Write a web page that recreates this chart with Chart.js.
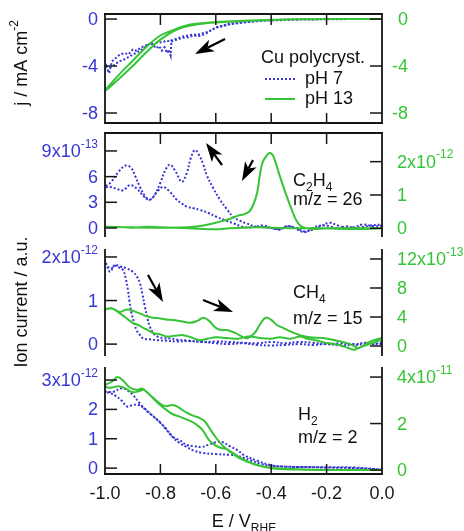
<!DOCTYPE html>
<html>
<head>
<meta charset="utf-8">
<script src="https://cdn.jsdelivr.net/npm/chart.js@4.4.0/dist/chart.umd.min.js"></script>
<style>
  body { margin: 0; background: #fff; }
  #wrap { position: relative; width: 464px; height: 531px; }
  canvas { position: absolute; left: 0; top: 0; }
</style>
</head>
<body>
<div id="wrap">
  <canvas id="p1" width="464" height="531"></canvas>
  <canvas id="p2" width="464" height="531"></canvas>
  <canvas id="p3" width="464" height="531"></canvas>
  <canvas id="p4" width="464" height="531"></canvas>
</div>
<script>
// DATA  (pairs are [E / V_RHE, value]; each curve is a full sweep 0 -> -1 -> 0)

const xTicks = [-1.0, -0.8, -0.6, -0.4, -0.2, 0.0];

// panel 1: current density, mA cm^-2
const p1Blue = [[0,0],[-0.1,0],[-0.2,-0.02],[-0.3,-0.05],[-0.4,-0.12],[-0.45,-0.18],[-0.5,-0.3],[-0.55,-0.45],
  [-0.6,-0.75],[-0.63,-1.1],[-0.66,-1.3],[-0.69,-1.35],[-0.72,-1.5],[-0.745,-1.7],[-0.76,-1.8],[-0.763,-3.1],
  [-0.77,-2.6],[-0.776,-2.9],[-0.785,-2.4],[-0.795,-2.7],[-0.805,-2.3],[-0.815,-2.5],[-0.83,-2.1],[-0.845,-2.2],
  [-0.86,-2.5],[-0.875,-2.7],[-0.89,-2.9],[-0.905,-3.1],[-0.92,-3.3],[-0.935,-3.5],[-0.95,-3.6],[-0.965,-3.9],
  [-0.98,-4.1],[-0.99,-4.4],[-1.0,-4.3],[-0.995,-4.0],[-0.985,-4.6],[-0.975,-3.6],[-0.96,-3.3],[-0.945,-3.0],
  [-0.93,-2.9],[-0.915,-3.0],[-0.9,-2.6],[-0.885,-2.7],[-0.87,-2.4],[-0.855,-2.3],[-0.84,-2.1],[-0.825,-2.2],
  [-0.81,-1.95],[-0.795,-2.0],[-0.78,-1.85],[-0.76,-1.9],[-0.74,-1.75],[-0.72,-1.6],[-0.7,-1.55],[-0.68,-1.4],
  [-0.66,-1.45],[-0.64,-1.3],[-0.62,-1.0],[-0.6,-0.7],[-0.55,-0.4],[-0.5,-0.25],[-0.45,-0.15],[-0.4,-0.08],
  [-0.3,-0.02],[-0.2,0],[0,0]];
const p1Green = [[0,0],[-0.1,0],[-0.2,0],[-0.3,-0.02],[-0.4,-0.07],[-0.5,-0.15],[-0.6,-0.25],[-0.65,-0.35],
  [-0.7,-0.5],[-0.75,-0.9],[-0.8,-1.4],[-0.85,-2.35],[-0.9,-3.55],[-0.95,-4.75],[-1.0,-6.1],[-0.95,-5.1],
  [-0.9,-4.0],[-0.85,-2.8],[-0.8,-1.75],[-0.75,-1.0],[-0.7,-0.6],[-0.65,-0.4],[-0.6,-0.3],[-0.5,-0.17],
  [-0.4,-0.08],[-0.3,-0.02],[-0.2,0],[-0.1,0],[0,0]];
const p1LeftTicks = [-8, -4, 0];
const p1LeftLabels = ['-8', '-4', '0'];
const p1RightTicks = [-8, -4, 0];
const p1RightLabels = ['-8', '-4', '0'];

// panel 2: C2H4, m/z = 26 (blue x1e-13, green x1e-12)
const p2Blue = [[0,0.3],[-0.03,0.2],[-0.07,0.4],[-0.1,0.1],[-0.13,0.0],[-0.16,0.3],[-0.19,0.6],[-0.22,0.2],
  [-0.25,-0.2],[-0.28,-0.4],[-0.31,0.0],[-0.34,0.2],[-0.37,-0.1],[-0.4,0.0],[-0.43,0.3],[-0.46,0.1],[-0.49,0.05],
  [-0.51,0.2],[-0.537,0.55],[-0.567,0.9],[-0.597,1.3],[-0.627,1.75],[-0.657,2.1],[-0.68,2.3],[-0.705,2.5],
  [-0.725,2.9],[-0.741,3.3],[-0.765,4.2],[-0.79,4.8],[-0.81,4.3],[-0.838,3.3],[-0.86,3.7],[-0.885,4.6],
  [-0.91,5.0],[-0.935,4.4],[-0.96,4.6],[-0.98,4.8],[-1.0,4.8],
  [-0.98,5.3],[-0.95,6.6],[-0.925,7.3],[-0.905,7.0],[-0.89,6.0],[-0.874,4.8],[-0.855,3.7],[-0.838,3.3],
  [-0.82,3.9],[-0.8,5.3],[-0.78,6.9],[-0.765,7.4],[-0.745,6.6],[-0.723,5.4],[-0.705,6.4],[-0.69,8.2],
  [-0.675,9.1],[-0.66,8.5],[-0.645,7.4],[-0.633,6.2],[-0.61,4.7],[-0.585,3.3],[-0.56,2.2],[-0.537,1.3],
  [-0.51,0.8],[-0.49,0.55],[-0.46,0.2],[-0.43,0.1],[-0.4,0.0],[-0.37,-0.2],[-0.34,0.2],[-0.31,-0.1],
  [-0.28,-0.5],[-0.25,0.0],[-0.22,0.3],[-0.19,0.2],[-0.16,-0.1],[-0.13,0.2],[-0.1,0.0],[-0.07,0.1],
  [-0.04,0.3],[0,0.4]];
const p2Green = [[0,0],[-0.1,0],[-0.2,0],[-0.25,-0.02],[-0.29,0.05],[-0.31,0.25],[-0.33,0.65],[-0.35,1.1],
  [-0.37,1.6],[-0.385,2.0],[-0.395,2.2],[-0.405,2.26],[-0.415,2.2],[-0.43,2.0],[-0.44,1.65],[-0.45,1.1],
  [-0.465,0.7],[-0.48,0.5],[-0.5,0.42],[-0.52,0.38],[-0.55,0.28],[-0.6,0.17],[-0.65,0.08],[-0.7,0.03],
  [-0.8,0.02],[-0.9,0.03],[-1.0,0.05],[-0.95,0.04],[-0.9,0.02],[-0.85,0.05],[-0.8,0.03],[-0.7,0.0],
  [-0.6,-0.03],[-0.55,0.0],[-0.5,0.02],[-0.45,0.03],[-0.4,0.02],[-0.3,0.0],[-0.2,0.0],[-0.1,-0.02],[0,0]];
const p2LeftTicks = [0, 3, 6, 9];
const p2LeftLabels = ['0', '3', '6', '9x10^{-13}'];
const p2RightTicks = [0, 1, 2];
const p2RightLabels = ['0', '1', '2x10^{-12}'];

// panel 3: CH4, m/z = 15 (blue x1e-12, green x1e-13)
const p3Blue = [[0,0.05],[-0.03,0.0],[-0.06,0.03],[-0.1,0.0],[-0.15,0.02],[-0.2,0.0],[-0.25,0.03],[-0.3,0.05],
  [-0.35,0.02],[-0.4,0.05],[-0.45,0.02],[-0.5,0.03],[-0.55,0.05],[-0.6,0.06],[-0.65,0.05],[-0.7,0.07],
  [-0.74,0.06],[-0.78,0.08],[-0.81,0.09],[-0.84,0.11],[-0.862,0.13],[-0.875,0.22],[-0.886,0.32],[-0.895,0.5],
  [-0.904,0.7],[-0.912,1.0],[-0.917,1.24],[-0.925,1.5],[-0.935,1.7],[-0.95,1.76],[-0.964,1.8],[-0.975,1.75],
  [-0.99,1.78],[-1.0,1.93],
  [-0.99,1.75],[-0.982,1.66],[-0.972,1.75],[-0.964,1.82],[-0.945,1.78],[-0.922,1.74],[-0.9,1.66],[-0.885,1.55],
  [-0.874,1.4],[-0.865,1.15],[-0.856,0.86],[-0.847,0.6],[-0.838,0.4],[-0.825,0.25],[-0.81,0.17],[-0.79,0.14],
  [-0.765,0.13],[-0.74,0.1],[-0.7,0.08],[-0.65,0.05],[-0.6,0.02],[-0.55,0.0],[-0.5,0.02],[-0.45,-0.02],
  [-0.4,-0.03],[-0.35,-0.02],[-0.3,0.0],[-0.25,-0.02],[-0.2,0.0],[-0.15,-0.03],[-0.1,-0.02],[-0.05,0.0],[0,0.0]];
const p3Green = [[0,1.0],[-0.02,0.6],[-0.05,0.2],[-0.08,-0.2],[-0.1,-0.5],[-0.12,-0.3],[-0.15,0.1],[-0.18,0.3],
  [-0.21,0.5],[-0.24,0.8],[-0.27,1.0],[-0.296,1.3],[-0.33,1.0],[-0.37,1.2],[-0.4,1.0],[-0.44,1.1],[-0.48,1.3],
  [-0.52,1.0],[-0.56,1.1],[-0.6,1.2],[-0.63,1.0],[-0.657,0.8],[-0.69,1.2],[-0.718,1.5],[-0.75,1.4],[-0.777,1.3],
  [-0.8,1.6],[-0.826,1.8],[-0.845,2.2],[-0.862,2.5],[-0.88,2.9],[-0.9,3.2],[-0.925,3.9],[-0.946,4.5],
  [-0.965,5.0],[-0.98,5.2],[-1.0,5.0],
  [-0.976,5.2],[-0.96,4.9],[-0.946,4.7],[-0.925,5.0],[-0.91,5.0],[-0.89,4.7],[-0.874,4.5],[-0.85,4.1],
  [-0.826,3.9],[-0.8,3.8],[-0.78,3.65],[-0.755,3.6],[-0.725,3.4],[-0.693,3.2],[-0.665,3.5],[-0.645,3.9],
  [-0.625,3.5],[-0.6,2.5],[-0.58,2.2],[-0.56,2.2],[-0.53,1.8],[-0.5,1.2],[-0.485,1.1],[-0.46,1.8],[-0.44,3.0],
  [-0.42,3.9],[-0.4,3.6],[-0.38,2.9],[-0.357,2.5],[-0.33,2.0],[-0.296,1.5],[-0.26,1.2],[-0.213,1.1],[-0.17,0.8],
  [-0.126,0.4],[-0.1,0.0],[-0.087,-0.3],[-0.065,0.1],[-0.043,0.6],[-0.02,0.9],[0,1.1]];
const p3LeftTicks = [0, 1, 2];
const p3LeftLabels = ['0', '1', '2x10^{-12}'];
const p3RightTicks = [0, 4, 8, 12];
const p3RightLabels = ['0', '4', '8', '12x10^{-13}'];

// panel 4: H2, m/z = 2 (blue x1e-12, green x1e-11)
const p4Blue = [[0,-0.05],[-0.1,0.0],[-0.2,0.02],[-0.3,0.04],[-0.35,0.05],[-0.4,0.1],[-0.45,0.25],[-0.5,0.45],
  [-0.52,0.6],[-0.55,0.75],[-0.58,0.9],[-0.6,0.88],[-0.625,0.8],[-0.65,0.72],[-0.68,0.75],[-0.705,0.79],
  [-0.73,0.95],[-0.755,1.07],[-0.78,1.35],[-0.8,1.54],[-0.83,1.8],[-0.86,2.05],[-0.88,2.15],[-0.9,2.15],
  [-0.92,2.1],[-0.94,2.3],[-0.96,2.45],[-0.98,2.55],[-1.0,2.6],
  [-0.97,2.6],[-0.94,2.72],[-0.92,2.65],[-0.9,2.5],[-0.874,2.2],[-0.85,1.95],[-0.83,1.8],[-0.8,1.55],
  [-0.78,1.32],[-0.755,1.05],[-0.73,0.85],[-0.705,0.72],[-0.68,0.6],[-0.65,0.52],[-0.6,0.48],[-0.55,0.45],
  [-0.525,0.43],[-0.5,0.35],[-0.47,0.25],[-0.44,0.15],[-0.4,0.08],[-0.35,0.05],[-0.3,0.04],[-0.2,0.03],
  [-0.1,0.02],[0,-0.05]];
const p4Green = [[0,0.0],[-0.2,0.0],[-0.3,0.02],[-0.4,0.08],[-0.45,0.2],[-0.49,0.38],[-0.52,0.55],[-0.55,0.8],
  [-0.575,1.05],[-0.6,1.4],[-0.62,1.75],[-0.64,2.1],[-0.66,2.25],[-0.685,2.35],[-0.71,2.5],[-0.735,2.7],
  [-0.755,2.8],[-0.78,2.75],[-0.8,2.85],[-0.82,3.05],[-0.845,3.3],[-0.865,3.5],[-0.885,3.45],[-0.91,3.55],
  [-0.935,3.85],[-0.955,4.0],[-0.975,3.8],[-1.0,3.65],
  [-0.99,3.55],[-0.975,3.55],[-0.95,3.6],[-0.925,3.5],[-0.9,3.35],[-0.875,3.4],[-0.86,3.45],[-0.84,3.25],
  [-0.81,2.9],[-0.78,2.6],[-0.755,2.4],[-0.73,2.3],[-0.7,2.15],[-0.675,2.0],[-0.65,1.75],[-0.625,1.3],
  [-0.6,1.05],[-0.58,0.95],[-0.56,0.9],[-0.54,0.75],[-0.5,0.45],[-0.45,0.22],[-0.4,0.1],[-0.3,0.03],
  [-0.2,0.0],[0,0.0]];
const p4LeftTicks = [0, 1, 2, 3];
const p4LeftLabels = ['0', '1', '2', '3x10^{-12}'];
const p4RightTicks = [0, 2, 4];
const p4RightLabels = ['0', '2', '4x10^{-11}'];

// STYLE

const BLUE = '#3636d2';
const GREEN = '#36c436';
const INK = '#161616';
const FONT = '"Liberation Sans", Arial, sans-serif';
const FS = 18;

// rich text: ^{..} superscript, _{..} subscript

function richParts(str){
  const parts = [];
  const re = /([_^])\{([^}]*)\}/g;
  let last = 0, m;
  while((m = re.exec(str))){
    if(m.index > last) parts.push({t: str.slice(last, m.index), k: ''});
    parts.push({t: m[2], k: m[1]});
    last = re.lastIndex;
  }
  if(last < str.length) parts.push({t: str.slice(last), k: ''});
  return parts;
}

function drawRich(ctx, str, x, y, align, color, size){
  size = size || FS;
  const small = Math.round(size * 0.68);
  const parts = richParts(str);
  let w = 0;
  parts.forEach(p=>{
    ctx.font = (p.k ? small : size) + 'px ' + FONT;
    p.w = ctx.measureText(p.t).width;
    w += p.w;
  });
  let cx = align === 'right' ? x - w : align === 'center' ? x - w / 2 : x;
  ctx.fillStyle = color;
  ctx.textAlign = 'left';
  ctx.textBaseline = 'middle';
  parts.forEach(p=>{
    ctx.font = (p.k ? small : size) + 'px ' + FONT;
    const dy = p.k === '^' ? -size * 0.42 : p.k === '_' ? size * 0.36 : 0;
    ctx.fillText(p.t, cx, y + dy);
    cx += p.w;
  });
}

function drawArrow(ctx, x1, y1, x2, y2){
  const a = Math.atan2(y2 - y1, x2 - x1);
  const hl = 19, hw = 6.5;
  const bx = x2 - hl * Math.cos(a), by = y2 - hl * Math.sin(a);
  ctx.setLineDash([]);
  ctx.strokeStyle = '#000';
  ctx.fillStyle = '#000';
  ctx.lineWidth = 2.2;
  ctx.beginPath();
  ctx.moveTo(x1, y1);
  ctx.lineTo(bx + 5 * Math.cos(a), by + 5 * Math.sin(a));
  ctx.stroke();
  ctx.beginPath();
  ctx.moveTo(x2, y2);
  ctx.lineTo(bx + hw * Math.sin(a), by - hw * Math.cos(a));
  ctx.lineTo(bx + 5 * Math.cos(a), by + 5 * Math.sin(a));
  ctx.lineTo(bx - hw * Math.sin(a), by + hw * Math.cos(a));
  ctx.closePath();
  ctx.fill();
}

// PANEL DECORATION (frames, inward ticks, labels, notes)

const decoPlugin = {
  id: 'deco',
  afterDraw(chart, args, o){
    const ctx = chart.ctx;
    const a = chart.chartArea;
    const x = chart.scales.x, yL = chart.scales.yL, yR = chart.scales.yR;
    ctx.save();
    ctx.setLineDash([]);

    // frame
    ctx.strokeStyle = INK;
    ctx.lineWidth = 1.8;
    ctx.lineCap = 'square';
    const side = (x1, y1, x2, y2)=>{ ctx.beginPath(); ctx.moveTo(x1, y1); ctx.lineTo(x2, y2); ctx.stroke(); };
    if(o.sides.includes('t')) side(a.left, a.top, a.right, a.top);
    if(o.sides.includes('b')) side(a.left, a.bottom, a.right, a.bottom);
    side(a.left, a.top, a.left, a.bottom);
    side(a.right, a.top, a.right, a.bottom);

    // x ticks
    ctx.lineWidth = 1.5;
    ctx.lineCap = 'butt';
    xTicks.slice(1, -1).forEach(v=>{
      const px = x.getPixelForValue(v);
      if(o.sides.includes('t')) side(px, a.top, px, a.top + 11);
      if(o.sides.includes('b')) side(px, a.bottom, px, a.bottom - 10);
    });

    // y ticks and labels
    yL.ticks.forEach((t, i)=>{
      const py = yL.getPixelForValue(t.value);
      side(a.left, py, a.left + 12, py);
      drawRich(ctx, o.leftLabels[i], a.left - 7, py + 1, 'right', BLUE);
    });
    yR.ticks.forEach((t, i)=>{
      const py = yR.getPixelForValue(t.value);
      side(a.right, py, a.right - 12, py);
      if(o.rightAlign === 'right') drawRich(ctx, o.rightLabels[i], a.right + 26, py + 1, 'right', GREEN);
      else drawRich(ctx, o.rightLabels[i], a.right + 15, py + 1, 'left', GREEN);
    });

    (o.notes || []).forEach(n=> drawRich(ctx, n[0], n[1], n[2], n[3] || 'left', n[4] || '#111'));
    (o.arrows || []).forEach(r=> drawArrow(ctx, r[0], r[1], r[2], r[3]));

    if(o.legend){
      ctx.lineWidth = 2;
      ctx.strokeStyle = BLUE;
      ctx.setLineDash([2, 2]);
      side(265, 79, 295, 79);
      ctx.setLineDash([]);
      ctx.strokeStyle = GREEN;
      side(265, 99, 295, 99);
    }

    (o.titles || []).forEach(tt=>{
      ctx.save();
      ctx.translate(tt[1], tt[2]);
      if(tt[3]) ctx.rotate(-Math.PI / 2);
      drawRich(ctx, tt[0], 0, 0, 'center', '#111');
      ctx.restore();
    });

    ctx.restore();
  }
};

function makePanel(id, cfg){
  const ds = (pairs, color, axis, dash, tension)=>({
    data: pairs.map(p=>({x: p[0], y: p[1]})),
    yAxisID: axis,
    borderColor: color,
    borderWidth: 2,
    borderDash: dash,
    pointRadius: 0,
    tension: tension,
    fill: false
  });
  const yAxis = (pos, r, ticks, w)=>({
    position: pos,
    min: r[0], max: r[1],
    afterBuildTicks: s=>{ s.ticks = ticks.map(v=>({value: v})); },
    afterFit: s=>{ s.width = w; },
    ticks: {display: false},
    grid: {display: false},
    border: {display: false}
  });
  return new Chart(document.getElementById(id), {
    type: 'line',
    data: {datasets: [
      ds(cfg.green, GREEN, 'yR', [], cfg.greenT),
      ds(cfg.blue, BLUE, 'yL', [2, 2], cfg.blueT)
    ]},
    options: {
      responsive: false,
      animation: false,
      events: [],
      layout: {padding: {top: cfg.top, bottom: cfg.bottom, left: 0, right: 0}},
      plugins: {legend: {display: false}, tooltip: {enabled: false}, deco: cfg},
      scales: {
        x: {
          type: 'linear', min: -1, max: 0,
          display: !!cfg.showX,
          afterBuildTicks: s=>{ s.ticks = xTicks.map(v=>({value: v})); },
          afterFit: s=>{ s.height = cfg.showX ? 40 : 0; },
          ticks: {callback: v=>v.toFixed(1), color: '#1a1a1a', font: {family: FONT, size: FS}, padding: 9, maxRotation: 0},
          grid: {display: false, drawTicks: false},
          border: {display: false}
        },
        yL: yAxis('left', cfg.left, cfg.leftTicks, 105),
        yR: yAxis('right', cfg.right, cfg.rightTicks, 82)
      }
    },
    plugins: [decoPlugin]
  });
}

// PANELS

makePanel('p1', {
  top: 14, bottom: 531 - 123, sides: 'tb',
  left: [-8.85, 0.43], right: [-8.85, 0.43],
  leftTicks: p1LeftTicks, leftLabels: p1LeftLabels,
  rightTicks: p1RightTicks, rightLabels: p1RightLabels, rightAlign: 'right',
  blue: p1Blue, green: p1Green, blueT: 0, greenT: 0.3,
  notes: [['Cu polycryst.', 261, 58], ['pH 7', 305, 79], ['pH 13', 305, 99]],
  arrows: [[225, 39, 195, 54]],
  legend: true,
  titles: [['j / mA cm^{-2}', 22, 63, true]]
});

makePanel('p2', {
  top: 133, bottom: 531 - 236, sides: 't',
  left: [-0.94, 11.1], right: [-0.23, 2.86],
  leftTicks: p2LeftTicks, leftLabels: p2LeftLabels,
  rightTicks: p2RightTicks, rightLabels: p2RightLabels,
  blue: p2Blue, green: p2Green, blueT: 0.4, greenT: 0.4,
  notes: [['C_{2}H_{4}', 293, 181], ['m/z = 26', 293, 200]],
  arrows: [[222, 165, 206, 143], [253, 160, 242, 181]]
});

makePanel('p3', {
  top: 250, bottom: 531 - 355, sides: '',
  left: [-0.25, 2.16], right: [-1.24, 13.24],
  leftTicks: p3LeftTicks, leftLabels: p3LeftLabels,
  rightTicks: p3RightTicks, rightLabels: p3RightLabels,
  blue: p3Blue, green: p3Green, blueT: 0.4, greenT: 0.4,
  notes: [['CH_{4}', 293, 293], ['m/z = 15', 293, 319]],
  arrows: [[148, 275, 163, 302], [203, 300, 233, 312]],
  titles: [['Ion current / a.u.', 22, 302, true]]
});

makePanel('p4', {
  top: 368, bottom: 531 - 474 - 40, sides: 'b', showX: true,
  left: [-0.2, 3.41], right: [-0.17, 4.39],
  leftTicks: p4LeftTicks, leftLabels: p4LeftLabels,
  rightTicks: p4RightTicks, rightLabels: p4RightLabels,
  blue: p4Blue, green: p4Green, blueT: 0.4, greenT: 0.4,
  notes: [['H_{2}', 298, 415], ['m/z = 2', 298, 438]],
  titles: [['E / V_{RHE}', 244, 522, false]]
});
</script>
</body>
</html>
